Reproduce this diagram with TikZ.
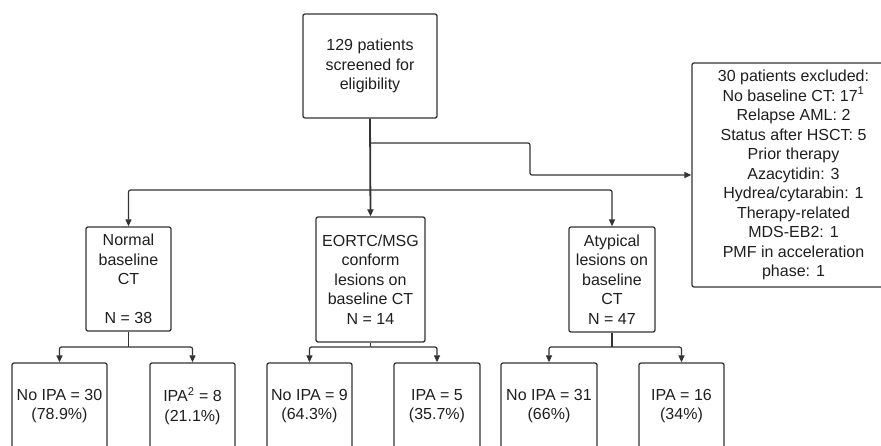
\documentclass[tikz,border=0pt]{standalone}
\usepackage{fontspec}
\setmainfont{Liberation Sans}
\usetikzlibrary{arrows.meta}
\definecolor{ln}{HTML}{333333}
\definecolor{tx}{HTML}{1E1E1E}
\begin{document}
\begin{tikzpicture}[x=1pt,y=-1pt,
  box/.style={draw=ln,line width=1.3pt,rounded corners=2pt,align=center,inner sep=0pt,
    text=tx,font=\fontsize{16}{19.5}\selectfont},
  conn/.style={draw=ln,line width=1.2pt,rounded corners=2pt,-{Triangle[length=7pt,width=6pt]}},
  plain/.style={draw=ln,line width=1.2pt,rounded corners=2pt}]
\useasboundingbox (0,0) rectangle (881,445);
\clip (0,0) rectangle (881,445);
% boxes
\node[box,minimum width=134pt,minimum height=104pt] (top) at (370,66) {129 patients\\screened for\\eligibility};
\node[box,minimum width=203pt,minimum height=224pt] (excl) at (793.5,175) {30 patients excluded:\\No baseline CT: 17\textsuperscript{1}\\Relapse AML: 2\\Status after HSCT: 5\\Prior therapy\\Azacytidin: 3\\Hydrea/cytarabin: 1\\Therapy-related\\MDS-EB2: 1\\PMF in acceleration\\phase: 1};
\node[box,minimum width=85pt,minimum height=104pt] (norm) at (128.5,279) {Normal\\baseline\\CT\\\mbox{}\\N = 38};
\node[box,minimum width=109pt,minimum height=125pt] (eortc) at (370.5,279.5) {EORTC/MSG\\conform\\lesions on\\baseline CT\\N = 14};
\node[box,minimum width=86pt,minimum height=105pt] (atyp) at (612,279.5) {Atypical\\lesions on\\baseline\\CT\\N = 47};
\node[box,minimum width=95pt,minimum height=86pt] (b1) at (59.5,406) {No IPA = 30\\(78.9\%)};
\node[box,minimum width=85pt,minimum height=86pt] (b2) at (192.5,406) {IPA\textsuperscript{2} = 8\\(21.1\%)};
\node[box,minimum width=85pt,minimum height=86pt] (b3) at (309.5,406) {No IPA = 9\\(64.3\%)};
\node[box,minimum width=86pt,minimum height=86pt] (b4) at (437,406) {IPA = 5\\(35.7\%)};
\node[box,minimum width=96pt,minimum height=86pt] (b5) at (549,406) {No IPA = 31\\(66\%)};
\node[box,minimum width=85pt,minimum height=86pt] (b6) at (681.5,406) {IPA = 16\\(34\%)};
% main connectors
\draw[conn,line width=1.8pt] (top.south) -- (eortc.north);
\coordinate (j1) at (370.5,143);
\coordinate (j2) at (370.5,190);
\draw[conn] (j1) -- (530,143) -- (530,175) -- (excl.west);
\draw[conn] (j2) -| (norm.north);
\draw[conn] (j2) -| (atyp.north);
% second level
\coordinate (n1) at (128.5,347);
\coordinate (n2) at (370.5,347);
\coordinate (n3) at (612,347);
\draw[plain] (norm.south) -- (n1);
\draw[plain] (eortc.south) -- (n2);
\draw[plain] (atyp.south) -- (n3);
\draw[conn] (n1) -| (b1.north);
\draw[conn] (n1) -| (b2.north);
\draw[conn] (n2) -| (b3.north);
\draw[conn] (n2) -| (b4.north);
\draw[conn] (n3) -| (b5.north);
\draw[conn] (n3) -| (b6.north);
\end{tikzpicture}
\end{document}
